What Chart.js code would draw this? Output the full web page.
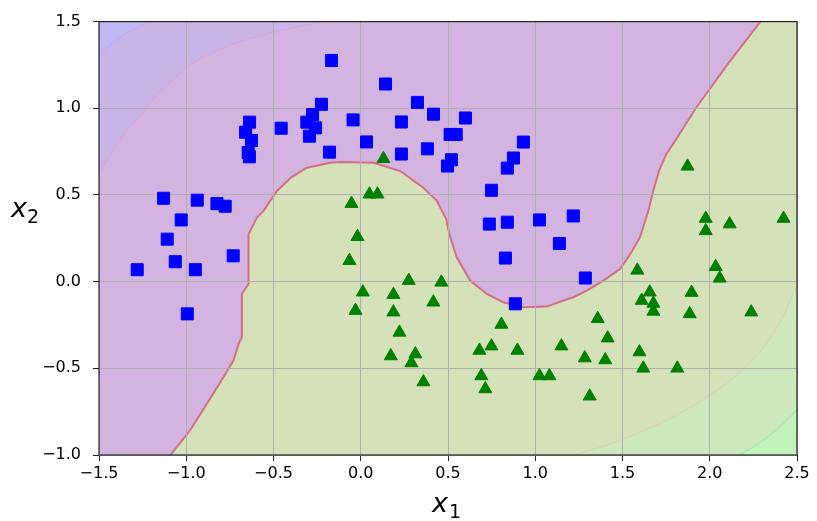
<!DOCTYPE html>
<html>
<head>
<meta charset="utf-8">
<script src="https://cdn.jsdelivr.net/npm/chart.js@4/dist/chart.umd.min.js"></script>
<style>
  body { margin: 0; background: #fff; }
  #wrap { width: 817px; height: 521px; }
</style>
</head>
<body>
<div id="wrap"><canvas id="chart" width="817" height="521"></canvas></div>
<script>
// class 0 (blue squares)
const blueX = [-0.168,-0.225,-0.276,-0.309,-0.259,-0.294,-0.179,-0.044,0.033,-0.637,-0.66,-0.626,-0.645,-0.638,-0.456,-1.13,-0.937,-0.824,-0.777,-1.029,-1.109,-1.063,-1.281,-0.948,-0.731,-0.994,0.142,0.325,0.417,0.233,0.6,0.512,0.547,0.233,0.382,0.52,0.497,0.932,0.875,0.84,0.749,0.737,0.84,1.024,1.218,1.138,0.829,1.287,0.886];
const blueY = [1.276,1.023,0.964,0.92,0.887,0.839,0.747,0.933,0.806,0.92,0.862,0.814,0.745,0.72,0.885,0.481,0.47,0.45,0.435,0.356,0.245,0.115,0.069,0.069,0.149,-0.186,1.14,1.034,0.966,0.921,0.944,0.849,0.849,0.736,0.766,0.703,0.667,0.805,0.713,0.655,0.527,0.332,0.343,0.356,0.379,0.22,0.136,0.021,-0.128];

// class 1 (green triangles)
const greenX = [-0.053,-0.019,-0.065,0.275,0.462,0.012,0.187,0.416,-0.03,0.187,0.222,0.172,0.313,0.29,0.359,0.806,0.68,0.749,0.898,1.15,1.284,0.691,0.714,1.024,1.081,0.13,0.05,0.096,1.873,1.977,1.977,2.114,2.423,1.585,2.034,2.057,1.656,1.61,1.677,1.677,1.896,1.885,2.238,1.358,1.415,1.401,1.597,1.619,1.814,1.312];
const greenY = [0.45,0.259,0.121,0.006,-0.004,-0.061,-0.075,-0.119,-0.167,-0.176,-0.293,-0.429,-0.418,-0.469,-0.579,-0.247,-0.397,-0.372,-0.397,-0.372,-0.441,-0.544,-0.619,-0.544,-0.544,0.709,0.504,0.504,0.665,0.364,0.293,0.332,0.364,0.065,0.086,0.019,-0.061,-0.109,-0.126,-0.172,-0.063,-0.186,-0.176,-0.214,-0.326,-0.452,-0.406,-0.5,-0.5,-0.661];

// decision boundary
const boundX = [-1.09,-0.977,-0.881,-0.786,-0.729,-0.70,-0.681,-0.681,-0.643,-0.643,-0.62,-0.595,-0.557,-0.519,-0.48,-0.40,-0.309,-0.175,-0.118,0.073,0.226,0.359,0.436,0.49,0.502,0.515,0.55,0.627,0.722,0.817,0.932,1.066,1.161,1.218,1.295,1.39,1.486,1.545,1.6,1.648,1.676,1.71,1.75,1.80,1.92,2.10,2.29];
const boundY = [-1.0,-0.856,-0.703,-0.55,-0.454,-0.36,-0.32,-0.071,-0.013,0.274,0.32,0.37,0.408,0.466,0.523,0.60,0.657,0.686,0.69,0.686,0.638,0.542,0.466,0.36,0.30,0.25,0.14,0.006,-0.071,-0.119,-0.148,-0.144,-0.109,-0.09,-0.052,0.006,0.073,0.159,0.255,0.408,0.523,0.64,0.734,0.81,1.0,1.25,1.5];

// decision-function contour bands
const cornerTLX = [-1.5,-1.43,-1.359,-1.28,-1.206];
const cornerTLY = [1.30,1.37,1.424,1.465,1.5];
const bandTLX = [-1.5,-1.43,-1.359,-1.25,-1.168,-1.07,-0.977,-0.85,-0.691,-0.45,-0.214];
const bandTLY = [0.62,0.74,0.849,0.97,1.079,1.17,1.251,1.32,1.385,1.45,1.5];
const bandBRX = [1.218,1.45,1.715,1.9,2.097,2.22,2.326,2.42,2.5];
const bandBRY = [-1.0,-0.93,-0.818,-0.72,-0.588,-0.48,-0.358,-0.2,-0.02];
const cornerBRX = [2.17,2.3,2.42,2.5];
const cornerBRY = [-1.0,-0.92,-0.82,-0.74];

const xMin = -1.5, xMax = 2.5, yMin = -1.0, yMax = 1.5;
const xTicks = [-1.5,-1.0,-0.5,0.0,0.5,1.0,1.5,2.0,2.5];
const yTicks = [-1.0,-0.5,0.0,0.5,1.0,1.5];

const pts = (xs, ys) => xs.map((x, i) => ({ x: x, y: ys[i] }));
const fmt = (v) => v.toFixed(1).replace("-", "\u2212");

// boundary closed off along the axes edges so the fills cover the whole plot
const regionPts = [{ x: xMin, y: yMin }, ...pts(boundX, boundY), { x: xMax, y: yMax }];

const area = (data, fill, color, order, edge, smooth) => ({
  type: "line",
  data: data,
  fill: fill,
  backgroundColor: color,
  borderColor: edge || "rgba(0,0,0,0)",
  borderWidth: edge ? 1 : 0,
  pointRadius: 0,
  tension: smooth ? 0.4 : 0,
  cubicInterpolationMode: smooth ? "monotone" : "default",
  order: order,
});

// grid above the filled regions, below the markers
let gridDone = false;
const gridPlugin = {
  id: "gridAbove",
  beforeDraw() { gridDone = false; },
  beforeDatasetDraw(chart, args) {
    if (gridDone || args.meta.type !== "scatter") return;
    gridDone = true;
    chart.scales.x.drawGrid(chart.chartArea);
    chart.scales.y.drawGrid(chart.chartArea);
  },
  afterDraw(chart) {
    const { ctx, chartArea: a } = chart;
    ctx.save();
    ctx.strokeStyle = "#222";
    ctx.lineWidth = 1.2;
    ctx.strokeRect(a.left, a.top, a.right - a.left, a.bottom - a.top);
    ctx.fillStyle = "#000";
    ctx.textBaseline = "alphabetic";
    ctx.textAlign = "left";
    const cx = (a.left + a.right) / 2;
    ctx.font = 'italic 27px "DejaVu Sans"';
    ctx.fillText("x", cx - 16, 512);
    ctx.font = '19px "DejaVu Sans"';
    ctx.fillText("1", cx + 1, 518);
    ctx.font = 'italic 27px "DejaVu Sans"';
    ctx.fillText("x", 11, 217);
    ctx.font = '19px "DejaVu Sans"';
    ctx.fillText("2", 27, 223);
    ctx.restore();
  },
};

new Chart(document.getElementById("chart"), {
  type: "scatter",
  data: {
    datasets: [
      {
        label: "class 0",
        data: pts(blueX, blueY),
        pointStyle: "rect",
        pointRadius: 8.5,
        backgroundColor: "#0000ff",
        borderColor: "#0000ff",
        borderWidth: 1,
        order: 0,
      },
      {
        label: "class 1",
        data: pts(greenX, greenY),
        pointStyle: "triangle",
        pointRadius: 7.5,
        backgroundColor: "#008000",
        borderColor: "#008000",
        borderWidth: 1,
        order: 1,
      },
      {
        type: "line",
        data: pts(boundX, boundY),
        fill: false,
        borderColor: "rgba(212,100,125,0.9)",
        borderWidth: 2,
        pointRadius: 0,
        tension: 0,
        order: 2,
      },
      area(pts(cornerBRX, cornerBRY), "start", "rgb(192,242,186)", 3, "rgba(170,220,160,0.8)", true),
      area(pts(bandBRX, bandBRY), "start", "rgb(204,232,188)", 4, "rgba(222,205,170,0.8)", true),
      area(pts(cornerTLX, cornerTLY), "end", "rgb(192,184,242)", 5, "rgba(200,165,225,0.8)", true),
      area(pts(bandTLX, bandTLY), "end", "rgb(201,180,232)", 6, "rgba(222,160,205,0.8)", true),
      area(regionPts, "start", "rgb(213,225,184)", 7),
      area(regionPts, "end", "rgb(211,180,224)", 8),
    ],
  },
  options: {
    responsive: false,
    animation: false,
    layout: { padding: { top: 20, right: 20, left: 0, bottom: 0 } },
    plugins: {
      legend: { display: false },
      tooltip: { enabled: false },
    },
    scales: {
      x: {
        type: "linear",
        min: xMin,
        max: xMax,
        afterFit: (s) => { s.height = 66; },
        afterBuildTicks: (s) => { s.ticks = xTicks.map((v) => ({ value: v })); },
        ticks: {
          color: "#000",
          padding: 3,
          font: { family: "DejaVu Sans", size: 16 },
          callback: (v) => fmt(v),
        },
        grid: { color: "#b0b0b0", lineWidth: 1, tickColor: "#222", tickLength: 6 },
        border: { display: false },
      },
      y: {
        type: "linear",
        min: yMin,
        max: yMax,
        afterFit: (s) => { s.width = 99; },
        afterBuildTicks: (s) => { s.ticks = yTicks.map((v) => ({ value: v })); },
        ticks: {
          color: "#000",
          padding: 12,
          font: { family: "DejaVu Sans", size: 16 },
          callback: (v) => fmt(v),
        },
        grid: { color: "#b0b0b0", lineWidth: 1, tickColor: "#222", tickLength: 6 },
        border: { display: false },
      },
    },
  },
  plugins: [gridPlugin],
});
</script>
</body>
</html>
